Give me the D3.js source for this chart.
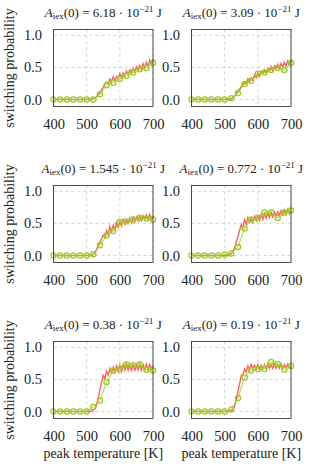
<html>
<script src='https://d3js.org/d3.v7.min.js'></script>
<body style="margin:0">
<svg width=310 height=464></svg>
<script>
// sampled temperatures of the noisy curve
var temps = [400,405,410,415,420,425,430,435,440,445,450,455,460,465,470,475,480,485,490,495,
  500,505,510,515,520,525,530,535,540,545,550,555,560,565,570,575,580,585,590,595,
  600,605,610,615,620,625,630,635,640,645,650,655,660,665,670,675,680,685,690,695,700];
// marker temperatures
var markTemps = [400,420,440,460,480,500,520,540,560,580,600,620,640,660,680,700];

var aValues = ["6.18","3.09","1.545","0.772","0.38","0.19"];

var red1 = [0,0,0,0,0,0,0,0,0,0,0,0,0,0,0,0,0,0,0,0,0,0,0,0,
  0.01,0.02,0.04,0.08,0.11,0.15,0.19,0.24,0.27,0.24,0.32,0.28,0.35,0.29,0.36,0.34,
  0.40,0.34,0.41,0.38,0.44,0.39,0.46,0.42,0.48,0.43,0.51,0.46,0.53,0.47,0.56,0.50,0.58,0.51,0.61,0.54,0.63];
var red2 = [0,0,0,0,0,0,0,0,0,0,0,0,0,0,0,0,0,0,0,0,0,0,0,0,
  0.01,0.03,0.05,0.09,0.12,0.16,0.20,0.23,0.27,0.24,0.32,0.28,0.34,0.30,0.38,0.34,
  0.41,0.36,0.44,0.40,0.46,0.41,0.48,0.44,0.51,0.45,0.52,0.48,0.55,0.48,0.56,0.51,0.58,0.52,0.60,0.54,0.61];
var red3 = [0,0,0,0,0,0,0,0,0,0,0,0,0,0,0,0,0,0,0,0,0,0,0,0,
  0.02,0.05,0.09,0.16,0.20,0.26,0.31,0.28,0.39,0.32,0.45,0.37,0.47,0.40,0.51,0.44,
  0.53,0.46,0.56,0.49,0.55,0.50,0.58,0.51,0.59,0.52,0.60,0.54,0.61,0.54,0.62,0.56,0.63,0.56,0.64,0.56,0.62];
var red4 = [0,0,0,0,0,0,0,0,0,0,0,0,0,0,0,0,0,0,0,0,0,0,0,0,
  0.03,0.06,0.12,0.21,0.29,0.39,0.48,0.43,0.56,0.49,0.59,0.52,0.58,0.52,0.61,0.54,
  0.62,0.55,0.64,0.56,0.65,0.58,0.66,0.59,0.67,0.60,0.68,0.61,0.68,0.62,0.70,0.63,0.71,0.64,0.72,0.65,0.71];
var red5 = [0,0,0,0,0,0,0,0,0,0,0,0,0,0,0,0,0,0,0,0,0,0,0,0,
  0.02,0.05,0.10,0.21,0.34,0.46,0.56,0.51,0.63,0.57,0.67,0.60,0.69,0.61,0.71,0.62,
  0.72,0.63,0.73,0.64,0.74,0.64,0.73,0.64,0.74,0.63,0.73,0.65,0.74,0.64,0.73,0.65,0.74,0.65,0.73,0.66,0.72];
var red6 = [0,0,0,0,0,0,0,0,0,0,0,0,0,0,0,0,0,0,0,0,0,0,0,0,
  0.01,0.03,0.08,0.19,0.31,0.43,0.56,0.58,0.66,0.61,0.71,0.65,0.73,0.66,0.72,0.66,
  0.73,0.65,0.72,0.67,0.73,0.66,0.74,0.67,0.73,0.67,0.74,0.67,0.73,0.67,0.74,0.67,0.73,0.68,0.74,0.68,0.72];

var green1 = [0,0,0,0,0,0,0,0.08,0.22,0.26,0.32,0.37,0.42,0.47,0.49,0.57];
var green2 = [0,0,0,0,0,0,0.02,0.10,0.24,0.29,0.40,0.42,0.46,0.49,0.46,0.57];
var green3 = [0,0,0,0,0,0,0.02,0.16,0.31,0.38,0.52,0.53,0.56,0.585,0.575,0.56];
var green4 = [0,0,0,0,0,0.01,0.03,0.13,0.42,0.56,0.585,0.67,0.67,0.585,0.67,0.70];
var green5 = [0,0,0,0,0,0,0.07,0.17,0.46,0.64,0.66,0.73,0.72,0.73,0.65,0.64];
var green6 = [0,0,0,0,0,0,0.03,0.21,0.53,0.64,0.66,0.66,0.77,0.74,0.65,0.71];

var xTicks = [400,500,600,700];
var yTicks = [0,0.5,1.0];

var reds = [red1,red2,red3,red4,red5,red6];
var greens = [green1,green2,green3,green4,green5,green6];

var serif = '"Liberation Serif", "Times New Roman", serif';
var colX = [53.5, 191.5];
var rowY = [29.5, 185.5, 341.5];
var w = 99.5, h = 77;

var svg = d3.select("svg");

reds.forEach(function(red, i) {
  var col = i % 2, row = Math.floor(i / 2);
  var g = svg.append("g")
    .attr("transform","translate(" + colX[col] + "," + rowY[row] + ")");

  var x = d3.scaleLinear().domain([400,700]).range([0,w]);
  var y = d3.scaleLinear().domain([-0.11,1.09]).range([h,0]);

  // grid
  g.selectAll(".gx").data(xTicks).enter().append("line")
    .attr("x1", d => x(d)).attr("x2", d => x(d))
    .attr("y1", 0).attr("y2", h)
    .attr("stroke","#c8c8c8").attr("stroke-width",0.8).attr("stroke-dasharray","3,3");
  g.selectAll(".gy").data(yTicks).enter().append("line")
    .attr("x1", 0).attr("x2", w)
    .attr("y1", d => y(d)).attr("y2", d => y(d))
    .attr("stroke","#c8c8c8").attr("stroke-width",0.8).attr("stroke-dasharray","3,3");

  var xAxis = d3.axisBottom(x).tickValues(xTicks).tickSize(0).tickPadding(12);
  var yAxis = d3.axisLeft(y).tickValues(yTicks).tickSize(0).tickPadding(11.5).tickFormat(d3.format(".1f"));
  var ax = g.append("g").attr("transform","translate(0," + h + ")").call(xAxis);
  var ay = g.append("g").call(yAxis);
  [ax, ay].forEach(function(a) {
    a.select(".domain").remove();
    a.selectAll("text").attr("fill","#222")
      .style("font-family", serif).style("font-size", "14.5px");
  });

  // noisy curve
  g.append("path").datum(red)
    .attr("fill","none").attr("stroke","#ff3b3b").attr("stroke-opacity",0.8).attr("stroke-width",1.4)
    .attr("d", d3.line().x((d, k) => x(temps[k])).y(d => y(d)));

  // marker curve
  var gr = greens[i];
  g.append("path").datum(gr)
    .attr("fill","none").attr("stroke","#9acd1e").attr("stroke-width",0.9)
    .attr("d", d3.line().x((d, k) => x(markTemps[k])).y(d => y(d)));
  g.selectAll("circle").data(gr).enter().append("circle")
    .attr("cx", (d, k) => x(markTemps[k])).attr("cy", d => y(d)).attr("r", 2.6)
    .attr("fill","none").attr("stroke","#9acd1e").attr("stroke-width",1.3);

  // frame
  g.append("rect").attr("width", w).attr("height", h)
    .attr("fill","none").attr("stroke","#3a3a3a").attr("stroke-width",0.9);

  // title
  var t = g.append("text").attr("x", w/2).attr("y", -13).attr("text-anchor","middle")
    .attr("fill","#222").style("font-family", serif).style("font-size", "13px");
  t.append("tspan").style("font-style","italic").text("A");
  t.append("tspan").attr("dy", 2.5).style("font-size", "9px").text("iex");
  t.append("tspan").attr("dy", -2.5).text("(0) = " + aValues[i] + " \u00b7 10");
  t.append("tspan").attr("dy", -5).style("font-size", "9px").text("\u221221");
  t.append("tspan").attr("dy", 5).text(" J");

  if (col == 0) {
    g.append("text").attr("transform","translate(-40," + (h/2) + ") rotate(-90)")
      .attr("text-anchor","middle").attr("fill","#222")
      .style("font-family", serif).style("font-size", "14px")
      .text("switching probability");
  }
  if (row == 2) {
    g.append("text").attr("x", w/2).attr("y", h + 39).attr("text-anchor","middle")
      .attr("fill","#222").style("font-family", serif).style("font-size", "14px")
      .text("peak temperature [K]");
  }
});
</script>
</body>
</html>
